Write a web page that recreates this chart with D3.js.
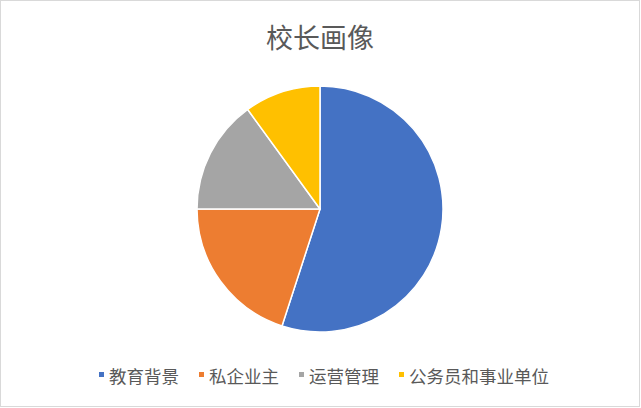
<!DOCTYPE html>
<html><head><meta charset="utf-8">
<script src="https://cdn.jsdelivr.net/npm/d3@7"></script>
<style>html,body{margin:0;padding:0;background:#fff;}svg{display:block;}</style>
</head><body>
<script>
const categories = ["教育背景", "私企业主", "运营管理", "公务员和事业单位"];
const values = [55, 20, 15, 10];
const colors = ["#4472C4", "#ED7D31", "#A5A5A5", "#FFC000"];
const title = "校长画像";

const W = 641, H = 408;
const font = "'Noto Sans CJK SC', 'Noto Sans', sans-serif";
const svg = d3.select("body").append("svg").attr("width", W).attr("height", H);
svg.append("rect").attr("x", 0.5).attr("y", 0.5).attr("width", W - 2).attr("height", H - 2)
  .attr("fill", "#fff").attr("stroke", "#d9d9d9").attr("stroke-width", 1);

svg.append("text").attr("x", 320).attr("y", 48).attr("text-anchor", "middle")
  .attr("font-family", font).attr("font-size", 27).attr("fill", "#595959").text(title);

const cx = 320, cy = 209, r = 123;
const pie = d3.pie().sort(null).value(d => d);
const arc = d3.arc().innerRadius(0).outerRadius(r);
const g = svg.append("g").attr("transform", `translate(${cx},${cy})`);
g.selectAll("path").data(pie(values)).join("path")
  .attr("d", arc).attr("fill", (d, i) => colors[i])
  .attr("stroke", "#fff").attr("stroke-width", 1.5).attr("stroke-linejoin", "round");

const fs = 17.5;
const lg = svg.append("g");
let x = 0;
categories.forEach((c, i) => {
  const it = lg.append("g");
  it.append("rect").attr("x", x).attr("y", -5).attr("width", 5).attr("height", 5).attr("fill", colors[i]);
  const t = it.append("text").attr("x", x + 10).attr("y", 0).attr("font-family", font)
    .attr("font-size", fs).attr("fill", "#595959").attr("dominant-baseline", "central").attr("dy", "-0.1em").text(c);
  const w = t.node().getComputedTextLength();
  x += 10 + w + 20;
});
const total = x - 20;
lg.attr("transform", `translate(${324 - total / 2},377)`);
</script>
</body></html>
